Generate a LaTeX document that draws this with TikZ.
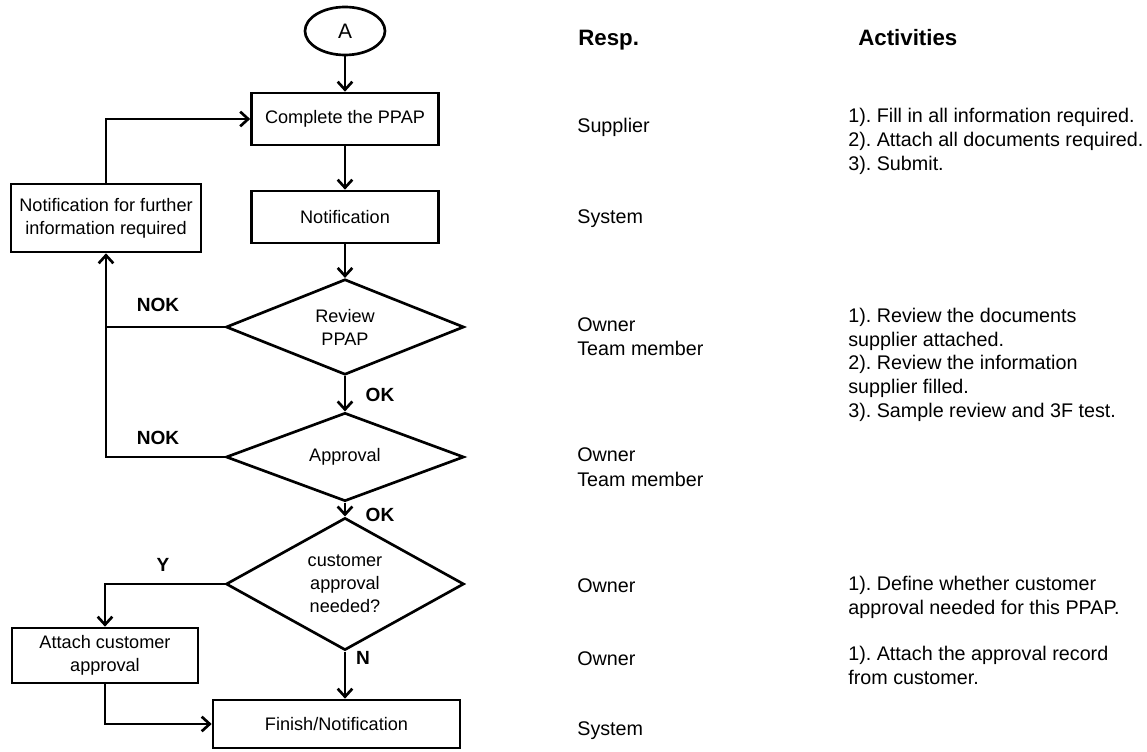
\documentclass[tikz,border=0pt]{standalone}
\usepackage{fontspec}
\setmainfont{Liberation Sans}
\usetikzlibrary{arrows.meta,shapes.geometric,calc}
\frenchspacing
\begin{document}
\begin{tikzpicture}[x=0.75pt,y=-0.75pt,
  line width=2pt,
  box/.style={draw,rectangle,inner sep=0pt,font=\fontsize{13.6}{17}\selectfont,align=center},
  dia/.style={draw,diamond,inner sep=0pt,font=\fontsize{13.6}{17.2}\selectfont,align=center},
  arr/.style={-{Straight Barb[length=6pt,width=11pt]}},
  lbl/.style={font=\bfseries\fontsize{14.3}{17}\selectfont,inner sep=0pt},
  resp/.style={anchor=base west,align=left,inner sep=0pt,font=\fontsize{14.8}{18}\selectfont},
  head/.style={anchor=base west,inner sep=0pt,font=\bfseries\fontsize{16.7}{20}\selectfont}]
\useasboundingbox (0,0) rectangle (1147,752);
\fill[white] (0,0) rectangle (1147,752);

% flowchart nodes
\node[draw,ellipse,minimum width=60pt,minimum height=36pt,inner sep=0pt,font=\fontsize{15.7}{18}\selectfont] (A) at (345,31) {A};
\node[box,minimum width=140.25pt,minimum height=39pt] (complete) at (345,119) {Complete the PPAP};
\node[box,minimum width=140.25pt,minimum height=39pt] (notif) at (345,217) {Notification};
\node[box,minimum width=142.5pt,minimum height=51pt] (further) at (106,218) {Notification for further\\information required};
\node[dia,minimum width=178.5pt,minimum height=59.25pt] (review) at (345,327) {Review\\PPAP};
\node[dia,minimum width=178.5pt,minimum height=60pt] (approval) at (345,457) {Approval};
\node[dia,minimum width=178.5pt,minimum height=73.5pt] (cust) at (345,584) {customer\\approval\\needed?};
\node[box,minimum width=139.5pt,minimum height=41.25pt] (attach) at (105,655.5) {Attach customer\\approval};
\node[box,minimum width=185.25pt,minimum height=36pt] (finish) at (336.5,724) {Finish/Notification};

% labels
\node[lbl] (nok1) at (158,305) {NOK};
\node[lbl] (nok2) at (158,438) {NOK};
\node[lbl] (ok1) at (380,395) {OK};
\node[lbl] (ok2) at (380,515) {OK};
\node[lbl] (y) at (163,565) {Y};
\node[lbl] (n) at (363,658) {N};

% connectors
\draw[arr] (A) -- (complete);
\draw[arr] (complete) -- (notif);
\draw[arr] (notif) -- (review);
\draw[arr] (review) -- (approval);
\draw[arr] (approval) -- (cust);
\draw[arr] (cust.south) -- (cust.south |- finish.north);
\draw (review.west) -- (review.west -| further.south);
\draw[arr] (approval.west) -| (further.south);
\draw[arr] (further.north) |- (complete.west);
\draw[arr] (cust.west) -| (attach.north);
\draw[arr] (attach.south) |- (finish.west);

% right columns (base anchor of multi-line nodes = last line)
\node[head] (hresp) at (577,46) {Resp.};
\node[head] (hact) at (857,46) {Activities};
\node[resp] (r1) at (576,133) {Supplier};
\node[resp] (a1) at (847,171) {1). Fill in all information required.\\2). Attach all documents required.\\3). Submit.};
\node[resp] (r2) at (576,224) {System};
\node[resp] (r3) at (576,356) {Owner\\Team member};
\node[resp] (a3) at (847,418) {1). Review the documents\\supplier attached.\\2). Review the information\\supplier filled.\\3). Sample review and 3F test.};
\node[resp] (r4) at (576,486) {Owner\\Team member};
\node[resp] (r5) at (576,592) {Owner};
\node[resp] (a5) at (847,614) {1). Define whether customer\\approval needed for this PPAP.};
\node[resp] (r6) at (576,665) {Owner};
\node[resp] (a6) at (847,684) {1). Attach the approval record\\from customer.};
\node[resp] (r7) at (576,735) {System};
\end{tikzpicture}
\end{document}
